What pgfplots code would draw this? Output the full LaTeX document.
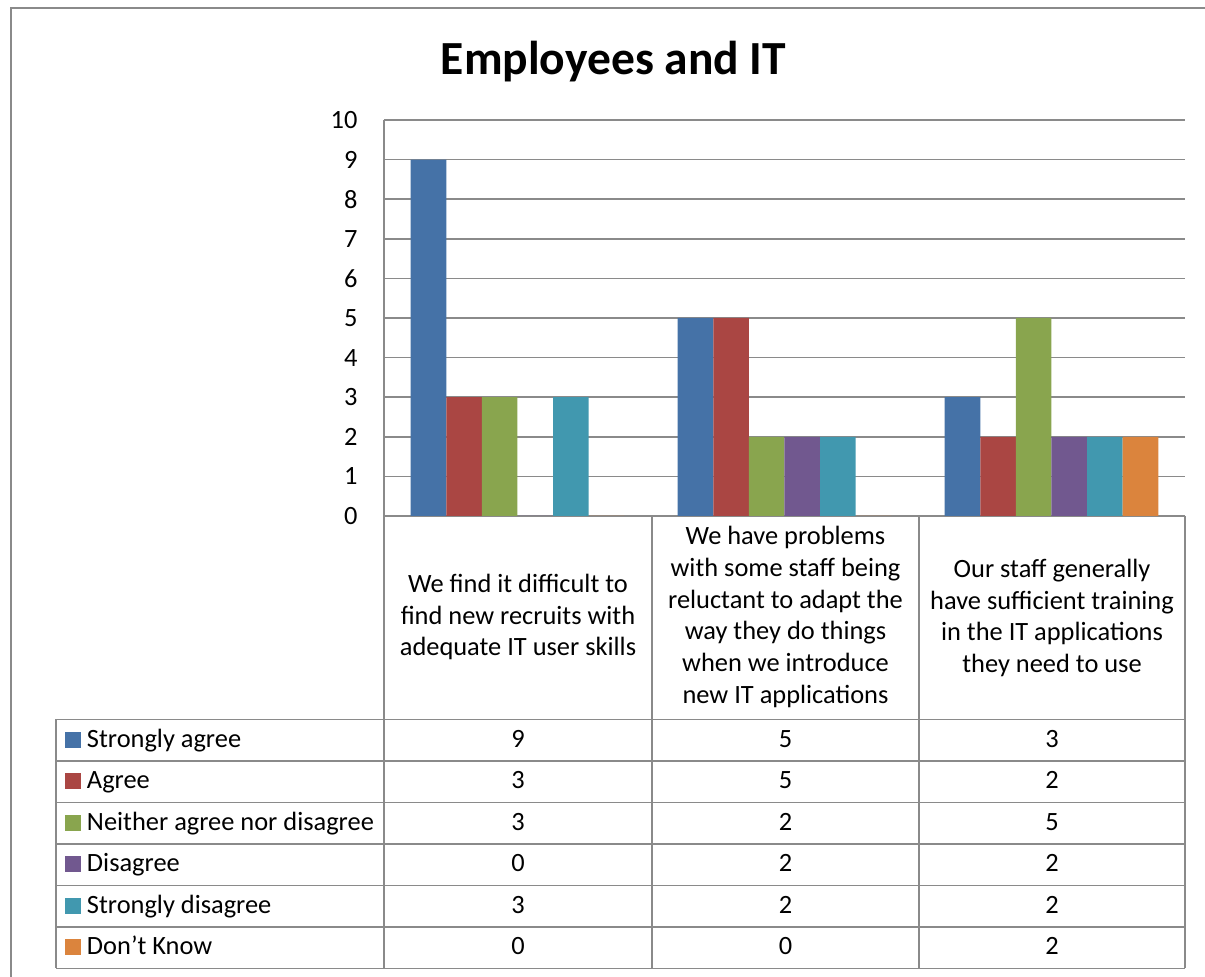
\documentclass[border=0pt]{standalone}
\usepackage{fontspec}
\setmainfont{Carlito}
\usepackage{pgfplots}
\pgfplotsset{compat=1.18}
\newdimen\pxu \pxu=0.3788pt
\newdimen\axw \axw=801\pxu
\newdimen\axh \axh=396\pxu
\newdimen\axx \axx=384\pxu
\newdimen\axy \axy=461\pxu
\newdimen\bw \bw=35.6\pxu
\newdimen\tlx \tlx=26\pxu
\newdimen\rowh \rowh=41.5\pxu
\newdimen\sqs \sqs=16\pxu
\newdimen\sqh \sqh=8\pxu
\newdimen\sqg \sqg=22\pxu
\newdimen\lw \lw=1.5\pxu
\definecolor{c1}{HTML}{4572A7}
\definecolor{c2}{HTML}{AA4643}
\definecolor{c3}{HTML}{89A54E}
\definecolor{c4}{HTML}{71588F}
\definecolor{c5}{HTML}{4198AF}
\definecolor{c6}{HTML}{DB843D}
\definecolor{gridc}{HTML}{8A8A8A}
\pgfplotsset{sqlegend/.style={legend image code/.code={\fill[##1,draw=none] (0pt,-\sqh) rectangle (\sqs,\sqh); \path (\sqg,0pt);}}}
\begin{document}
\begin{tikzpicture}[x=0.3788pt, y=0.3788pt]
\path[use as bounding box] (0,0) rectangle (1205,977);
% outer frame
\draw[gridc, line width=\lw] (11,-13) -- (11,969) -- (1220,969);
% title
\node[anchor=base, font=\fontsize{18}{22}\selectfont\bfseries, inner sep=0pt] at (613.5,902) {Employees and IT};
\begin{axis}[
  at={(\axx,\axy)}, anchor=south west,
  scale only axis, width=\the\axw, height=\the\axh,
  xmin=-0.5, xmax=2.5, ymin=0, ymax=10,
  enlargelimits=false,
  ybar=0pt, bar width=\the\bw,
  xtick=\empty,
  ytick={0,1,...,10},
  ymajorgrids,
  major grid style={gridc, line width=\the\lw},
  axis x line*=bottom, axis y line*=left,
  axis line style={gridc, line width=\the\lw, -},
  major tick length=0pt,
  /pgf/number format/assume math mode=true,
  tick label style={font=\fontsize{10}{12}\selectfont, text=black},
  yticklabel style={anchor=east, inner sep=0pt, xshift=-\the\tlx},
  legend cell align=left,
  legend style={at={(axis description cs:-0.39825,-0.51263)}, anchor=north west,
    draw=none, fill=none, inner sep=0pt, outer sep=0pt, row sep=0pt, column sep=0pt,
    font=\fontsize{10}{12}\selectfont,
    nodes={inner sep=0pt, outer sep=0pt, minimum height=\the\rowh, text height=7.5pt, text depth=2pt, anchor=west},
    cells={anchor=west}},
]
\addplot[fill=c1, draw=none, sqlegend] coordinates {(0,9) (1,5) (2,3)};
\addlegendentry{Strongly agree}
\addplot[fill=c2, draw=none, sqlegend] coordinates {(0,3) (1,5) (2,2)};
\addlegendentry{Agree}
\addplot[fill=c3, draw=none, sqlegend] coordinates {(0,3) (1,2) (2,5)};
\addlegendentry{Neither agree nor disagree}
\addplot[fill=c4, draw=none, sqlegend] coordinates {(0,0) (1,2) (2,2)};
\addlegendentry{Disagree}
\addplot[fill=c5, draw=none, sqlegend] coordinates {(0,3) (1,2) (2,2)};
\addlegendentry{Strongly disagree}
\addplot[fill=c6, draw=none, sqlegend] coordinates {(0,0) (1,0) (2,2)};
\addlegendentry{Don’t Know}
\end{axis}
% data table grid
\foreach \yy in {257.5,216,174.5,133,91.5,50,8.5} {
  \draw[gridc, line width=\lw] (56,\yy) -- (1185,\yy);
}
\draw[gridc, line width=\lw] (56,257.5) -- (56,8.5);
\foreach \xx in {384,652,919,1185} {
  \draw[gridc, line width=\lw] (\xx,461) -- (\xx,8.5);
}
% category labels
\begin{scope}[every node/.style={align=center, inner sep=0pt, font=\fontsize{10}{12.1}\selectfont}]
\node at (518,360) {We find it difficult to\\find new recruits with\\adequate IT user skills};
\node at (785.5,360) {We have problems\\with some staff being\\reluctant to adapt the\\way they do things\\when we introduce\\new IT applications};
\node at (1052,359) {Our staff generally\\have sufficient training\\in the IT applications\\they need to use};
\end{scope}
% values
\begin{scope}[every node/.style={inner sep=0pt, text height=7.5pt, text depth=2pt, font=\fontsize{10}{12}\selectfont}]
\foreach \yy/\a/\b/\c in {236.75/9/5/3, 195.25/3/5/2, 153.75/3/2/5, 112.25/0/2/2, 70.75/3/2/2, 29.25/0/0/2} {
  \node at (518,\yy) {\a};
  \node at (785.5,\yy) {\b};
  \node at (1052,\yy) {\c};
}
\end{scope}
\end{tikzpicture}
\end{document}
